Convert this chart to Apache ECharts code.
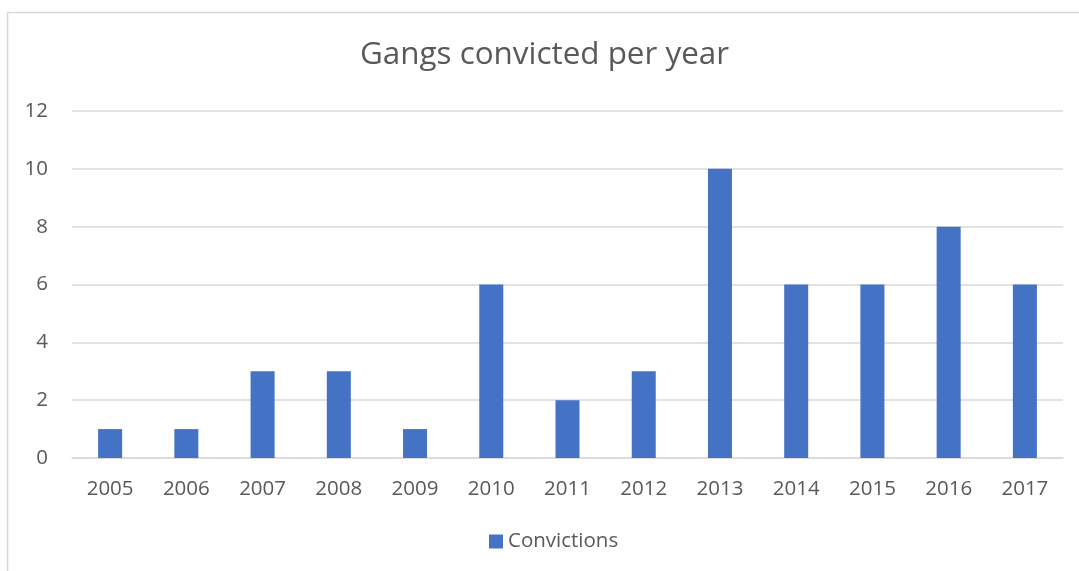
<!DOCTYPE html>
<html>
<head>
<meta charset="utf-8">
<script src="https://cdn.jsdelivr.net/npm/echarts@6/dist/echarts.min.js"></script>
<style>
  html, body { margin: 0; padding: 0; background: #fff; }
  #chart { width: 1079px; height: 571px; }
</style>
</head>
<body>
<div id="chart"></div>
<script>
const years = ['2005', '2006', '2007', '2008', '2009', '2010', '2011', '2012', '2013', '2014', '2015', '2016', '2017'];
const convictions = [1, 1, 3, 3, 1, 6, 2, 3, 10, 6, 6, 8, 6];
const seriesName = 'Convictions';
const chartTitle = 'Gangs convicted per year';

const font = '"Open Sans", "Noto Sans", sans-serif';
const textColor = '#595959';
const chart = echarts.init(document.getElementById('chart'), null, { renderer: 'canvas' });

chart.setOption({
  animation: false,
  backgroundColor: '#fff',
  graphic: [{
    type: 'rect',
    shape: { x: 7.5, y: 12.5, width: 1200, height: 700 },
    style: { fill: 'none', stroke: '#d9d9d9', lineWidth: 1.5 },
    silent: true
  }],
  title: {
    text: chartTitle,
    left: 355,
    top: 35,
    textStyle: { fontFamily: font, fontSize: 31.4, fontWeight: 'normal', color: textColor }
  },
  legend: {
    bottom: 14,
    left: 484,
    itemWidth: 14,
    itemHeight: 14,
    itemGap: 5,
    icon: 'rect',
    textStyle: { fontFamily: font, fontSize: 20.5, color: textColor, padding: [0, 0, 0, 0] }
  },
  grid: { left: 72, right: 16, top: 111, bottom: 113, containLabel: false },
  xAxis: {
    type: 'category',
    data: years,
    axisLine: { lineStyle: { color: '#d9d9d9', width: 1.5 } },
    axisTick: { show: false },
    axisLabel: { fontFamily: font, fontSize: 20.5, color: textColor, margin: 21 }
  },
  yAxis: {
    type: 'value',
    min: 0,
    max: 12,
    interval: 2,
    axisLine: { show: false },
    axisTick: { show: false },
    splitLine: { lineStyle: { color: '#d9d9d9', width: 1.5 } },
    axisLabel: { fontFamily: font, fontSize: 20.5, color: textColor, margin: 24 }
  },
  series: [{
    name: seriesName,
    type: 'bar',
    data: convictions,
    barWidth: '31.5%',
    itemStyle: { color: '#4472c4' }
  }]
});
</script>
</body>
</html>
